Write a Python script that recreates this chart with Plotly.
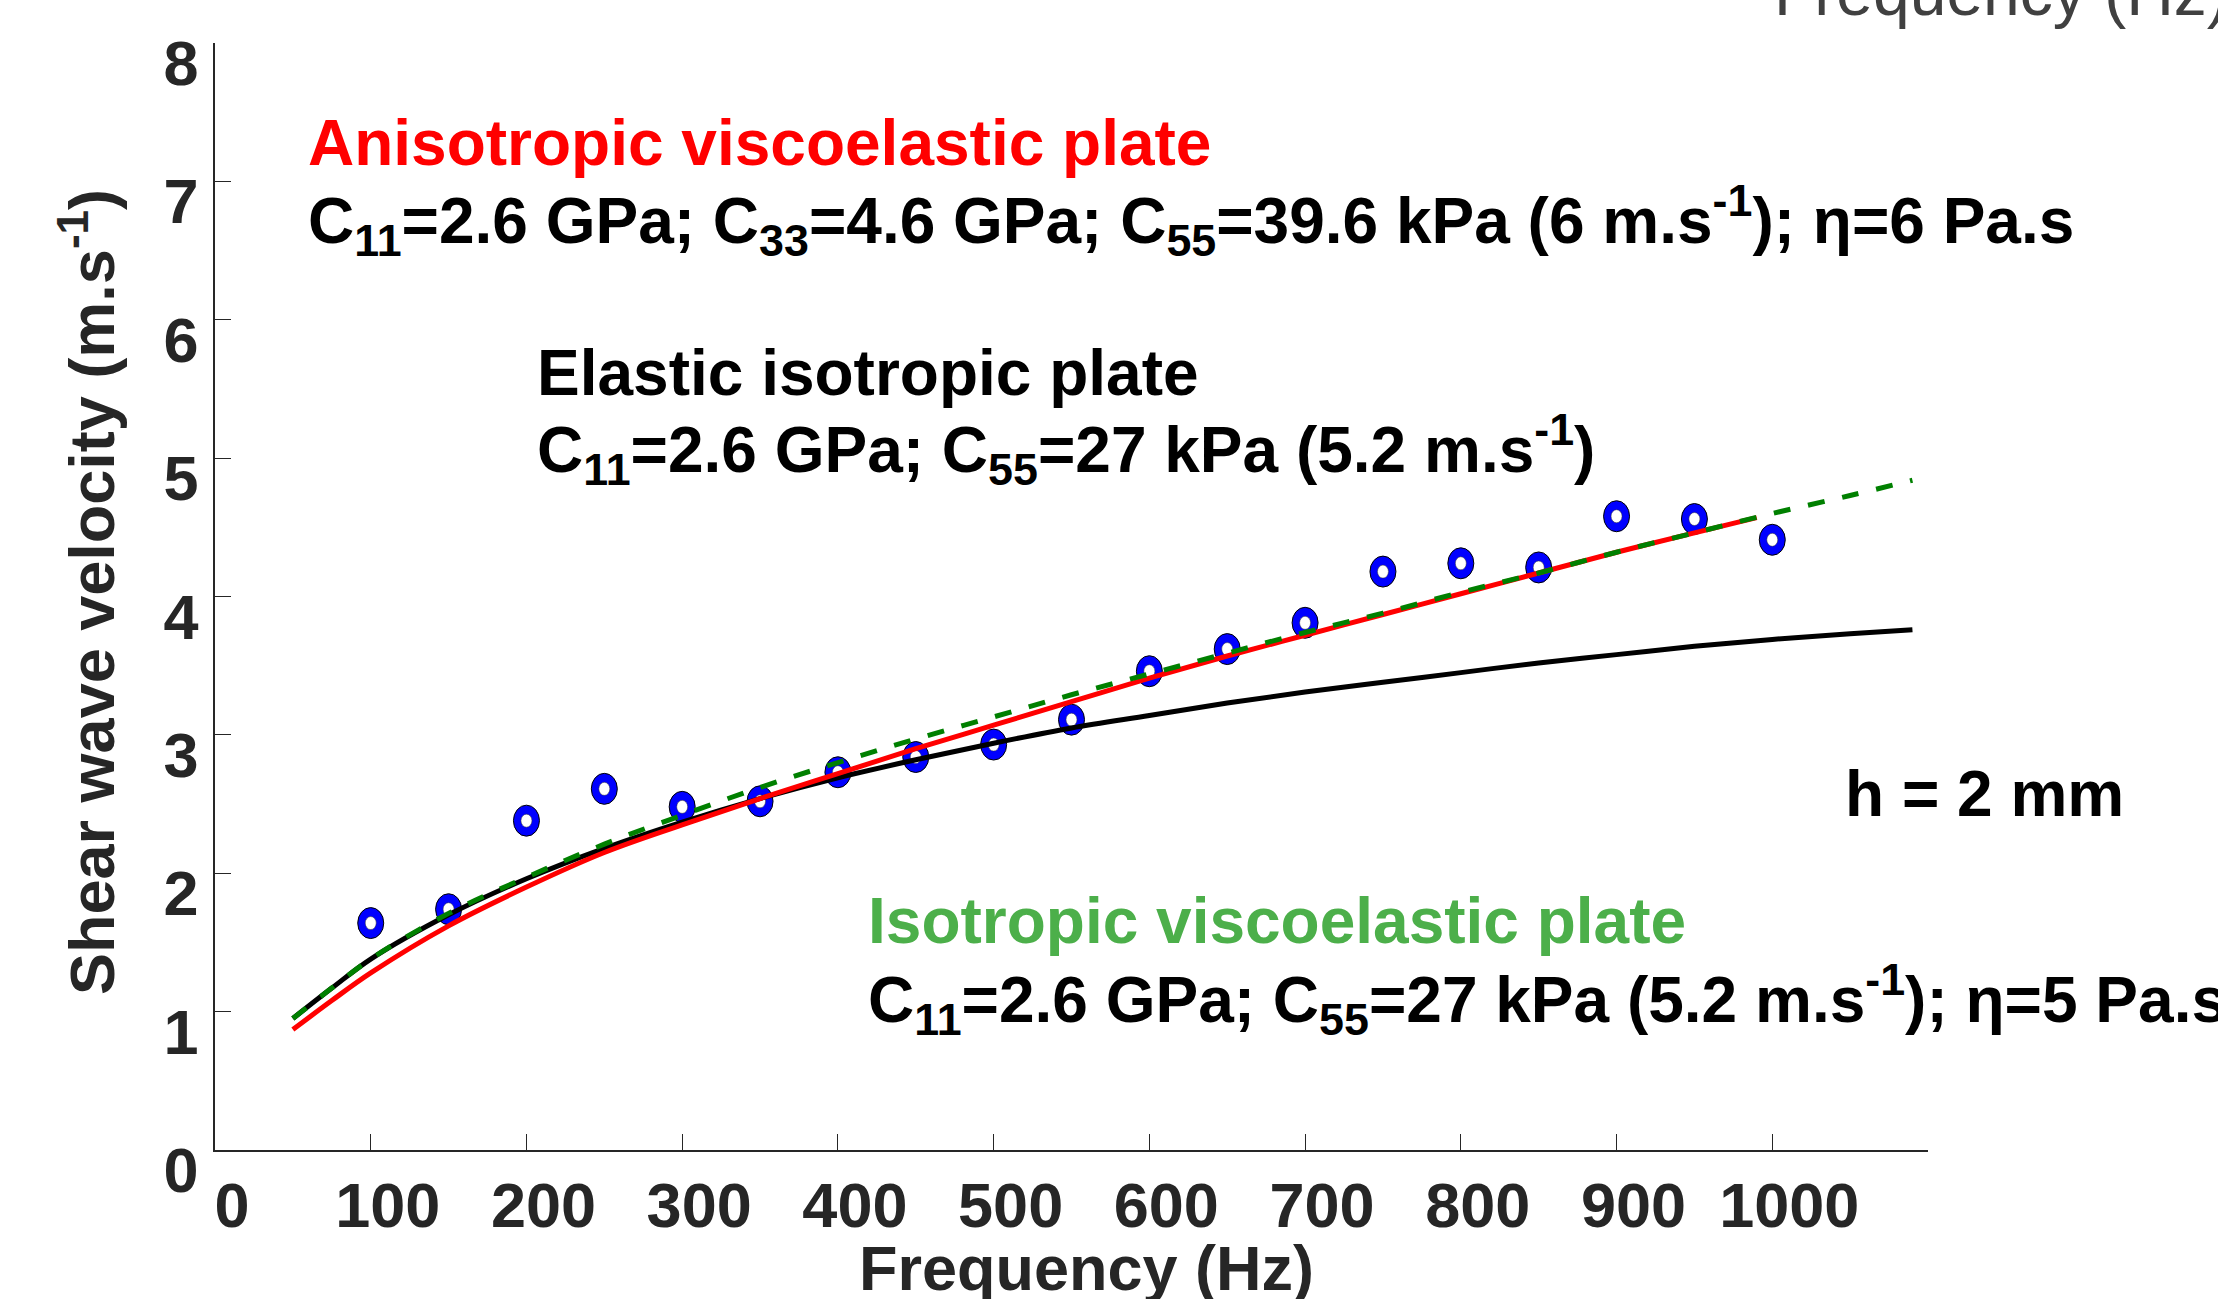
import plotly.graph_objects as go

# ---- measured data -------------------------------------------------------
freq_meas = [100, 150, 200, 250, 300, 350, 400, 450, 500, 550,
             600, 650, 700, 750, 800, 850, 900, 950, 1000]
vel_meas = [1.64, 1.74, 2.38, 2.61, 2.48, 2.52, 2.73, 2.84, 2.93, 3.11,
            3.46, 3.62, 3.81, 4.18, 4.24, 4.21, 4.58, 4.56, 4.41]

# ---- model curves ---------------------------------------------------------
freq_model = [50, 75, 100, 150, 200, 250, 300, 350, 400, 450, 500, 550,
              600, 650, 700, 750, 800, 850, 900, 950, 1000, 1050, 1090]
vel_elastic = [0.95, 1.17, 1.38, 1.70, 1.96, 2.18, 2.37, 2.54, 2.69, 2.82,
               2.94, 3.05, 3.14, 3.23, 3.31, 3.38, 3.45, 3.52, 3.58, 3.64,
               3.69, 3.73, 3.76]
vel_iso_visco = [0.95, 1.17, 1.38, 1.71, 1.97, 2.21, 2.42, 2.62, 2.80, 2.97,
                 3.13, 3.29, 3.44, 3.59, 3.74, 3.88, 4.03, 4.17, 4.32, 4.46,
                 4.60, 4.73, 4.84]

freq_aniso = [50, 75, 100, 150, 200, 250, 300, 350, 400, 450, 500, 550,
              600, 650, 700, 750, 800, 850, 900, 950, 990]
vel_aniso = [0.87, 1.08, 1.28, 1.62, 1.90, 2.15, 2.35, 2.54, 2.72, 2.90,
             3.07, 3.24, 3.41, 3.57, 3.72, 3.87, 4.02, 4.17, 4.32, 4.46,
             4.57]

x_ticks = [0, 100, 200, 300, 400, 500, 600, 700, 800, 900, 1000, 1100]
x_tick_text = ["0", "100", "200", "300", "400", "500", "600", "700", "800",
               "900", "1000", ""]
y_ticks = [0, 1, 2, 3, 4, 5, 6, 7, 8]

# ---- page geometry ---------------------------------------------------------
W, H = 2218, 1299
L, R, T, B = 215, 1928, 43, 1150
FONT = "Liberation Sans, Arial, Helvetica, sans-serif"
AXIS_COL = "#262626"


def px(xp):
    return (xp - L) / (R - L)


def py(yp):
    return (B - yp) / (B - T)


fig = go.Figure()

fig.add_trace(go.Scatter(x=freq_model, y=vel_elastic, mode="lines",
                         line=dict(color="#000000", width=5, shape="spline"),
                         name="Elastic isotropic plate"))
fig.add_trace(go.Scatter(x=freq_aniso, y=vel_aniso, mode="lines",
                         line=dict(color="#FF0000", width=5, shape="spline"),
                         name="Anisotropic viscoelastic plate"))
fig.add_trace(go.Scatter(x=freq_model, y=vel_iso_visco, mode="lines",
                         line=dict(color="#008000", width=5, shape="spline",
                                   dash="17px,18px"),
                         name="Isotropic viscoelastic plate"))
fig.add_trace(go.Scatter(x=freq_meas, y=vel_meas, mode="markers",
                         marker=dict(size=27, opacity=0),
                         name="Measurements"))

# elliptical ring markers, anchored on the measured values
for f, v in zip(freq_meas, vel_meas):
    fig.add_shape(type="circle", xref="x", yref="y", layer="below",
                  xsizemode="pixel", ysizemode="pixel",
                  xanchor=f, yanchor=v, x0=-13, x1=13, y0=-15.5, y1=15.5,
                  fillcolor="#0000FF", line=dict(color="#000000", width=1))
    fig.add_shape(type="circle", xref="x", yref="y", layer="below",
                  xsizemode="pixel", ysizemode="pixel",
                  xanchor=f, yanchor=v, x0=-5.5, x1=5.5, y0=-6.5, y1=6.5,
                  fillcolor="#FFFFFF", line=dict(color="#333333", width=0.5))


def label(text, x_left, baseline, color="#000000", size=64, bold=True,
          anchor="left"):
    t = f"<b>{text}</b>" if bold else text
    fig.add_annotation(text=t, xref="paper", yref="paper",
                       x=px(x_left), y=py(baseline - 0.35 * size),
                       xanchor=anchor, yanchor="middle", showarrow=False,
                       font=dict(family=FONT, size=size, color=color))


label("Anisotropic viscoelastic plate", 306, 165, color="#FF0000")
label("C<sub>11</sub>=2.6 GPa; C<sub>33</sub>=4.6 GPa; C<sub>55</sub>=39.6 kPa "
      "(6 m.s<sup>-1</sup>); η=6 Pa.s", 306, 242)
label("Elastic isotropic plate", 535, 395)
label("C<sub>11</sub>=2.6 GPa; C<sub>55</sub>=27 kPa (5.2 m.s<sup>-1</sup>)",
      535, 471)
label("h = 2 mm", 1843, 816)
label("Isotropic viscoelastic plate", 866, 943, color="#4CAF4A")
label("C<sub>11</sub>=2.6 GPa; C<sub>55</sub>=27 kPa (5.2 m.s<sup>-1</sup>); "
      "η=5 Pa.s", 866, 1021)

# axis titles
label("Frequency (Hz)", 1086, 1290, color=AXIS_COL, size=63, anchor="center")
fig.add_annotation(text="<b>Shear wave velocity (m.s<sup>-1</sup>)</b>",
                   xref="paper", yref="paper", x=px(87), y=py(592),
                   xanchor="center", yanchor="middle", textangle=-90,
                   showarrow=False,
                   font=dict(family=FONT, size=63, color=AXIS_COL))

# neighbouring panel's axis title peeking in at the top edge
fig.add_annotation(text="Frequency (Hz)", xref="paper", yref="paper",
                   x=px(1772), y=py(15 - 0.35 * 66), xanchor="left",
                   yanchor="middle", showarrow=False,
                   font=dict(family=FONT, size=66, color="#404040"))

fig.update_layout(
    width=W, height=H,
    margin=dict(l=L, r=W - R, t=T, b=H - B, pad=0),
    paper_bgcolor="#FFFFFF", plot_bgcolor="#FFFFFF",
    showlegend=False,
    xaxis=dict(range=[0, 1100], tickvals=x_ticks, ticktext=x_tick_text,
               showgrid=False, zeroline=False, showline=True,
               linecolor=AXIS_COL, linewidth=1.5, ticks="inside",
               ticklen=16, tickwidth=1.2, tickcolor=AXIS_COL,
               ticklabelshift=17, ticklabelstandoff=0,
               tickfont=dict(family=FONT, size=63, color=AXIS_COL,
                             weight="bold")),
    yaxis=dict(range=[0, 8], tickvals=y_ticks, showgrid=False,
               zeroline=False, showline=True, linecolor=AXIS_COL,
               linewidth=1.5, ticks="inside", ticklen=16, tickwidth=1.2,
               tickcolor=AXIS_COL, ticklabelshift=20, ticklabelstandoff=2,
               ticklabeloverflow="allow",
               tickfont=dict(family=FONT, size=63, color=AXIS_COL,
                             weight="bold")),
)

fig.write_html("out.html")
